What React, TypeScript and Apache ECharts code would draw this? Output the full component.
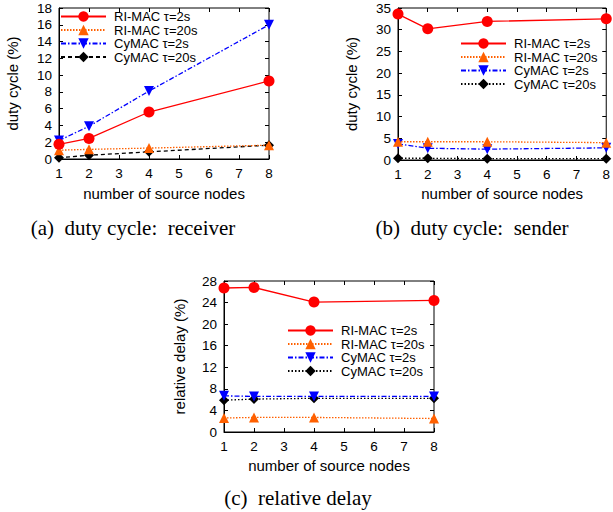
import React, { useEffect, useRef } from "react";
import * as echarts from "echarts";

const nodes = [1, 2, 4, 8];
const seriesNames = ["RI-MAC τ=2s", "RI-MAC τ=20s", "CyMAC τ=2s", "CyMAC τ=20s"];

// (a) duty cycle: receiver
const recvRiMac2 = [1.75, 2.45, 5.6, 9.3];
const recvRiMac20 = [1.05, 1.15, 1.3, 1.65];
const recvCyMac2 = [2.2, 3.9, 8.1, 16.0];
const recvCyMac20 = [0.15, 0.45, 0.85, 1.65];

// (b) duty cycle: sender
const sendRiMac2 = [33.6, 30.2, 31.9, 32.5];
const sendRiMac20 = [4.2, 4.2, 4.2, 4.0];
const sendCyMac2 = [3.7, 2.7, 2.5, 2.8];
const sendCyMac20 = [0.4, 0.4, 0.3, 0.3];

// (c) relative delay
const delayRiMac2 = [26.7, 26.8, 24.1, 24.4];
const delayRiMac20 = [2.6, 2.7, 2.7, 2.5];
const delayCyMac2 = [6.7, 6.6, 6.6, 6.6];
const delayCyMac20 = [5.9, 6.1, 6.25, 6.25];

const yAxisNames = ["duty cycle (%)", "duty cycle (%)", "relative delay (%)"];
const xAxisName = "number of source nodes";
const yMax = [18, 35, 28];
const yInterval = [2, 5, 4];
const captions = ["(a)  duty cycle:  receiver", "(b)  duty cycle:  sender", "(c)  relative delay"];

const FONT = "Liberation Sans";
const LABEL_SIZE = 13.5;
const NAME_SIZE = 15;
const LEGEND_SIZE = 13;

export default function App() {
  const ref = useRef<HTMLDivElement>(null);
  useEffect(() => {
    if (!ref.current) return;
    const chart = echarts.init(ref.current, null, { renderer: "svg" });

    const grids = [
      { left: 59, top: 8, width: 210, height: 151 },
      { left: 398, top: 8, width: 213, height: 152 },
      { left: 224, top: 281, width: 210, height: 151 },
    ];
    const yNameGap = [39, 39, 37];
    const xNameGap = [27, 26, 26];

    const xAxes: any[] = [];
    const yAxes: any[] = [];
    grids.forEach((_, i) => {
      xAxes.push({
        type: "value",
        gridIndex: i,
        min: 1,
        max: 8,
        interval: 1,
        position: "bottom",
        name: xAxisName,
        nameLocation: "middle",
        nameGap: xNameGap[i],
        nameTextStyle: { fontFamily: FONT, fontSize: NAME_SIZE, color: "#000" },
        axisLine: { show: true, onZero: false, lineStyle: { color: "#000", width: 1 } },
        axisTick: { show: true, inside: true, length: 4, lineStyle: { color: "#000" } },
        axisLabel: { fontFamily: FONT, fontSize: LABEL_SIZE, color: "#000", margin: 7 },
        splitLine: { show: false },
      });
      yAxes.push({
        type: "value",
        gridIndex: i,
        min: 0,
        max: yMax[i],
        interval: yInterval[i],
        position: "left",
        name: yAxisNames[i],
        nameLocation: "middle",
        nameGap: yNameGap[i],
        nameTextStyle: { fontFamily: FONT, fontSize: NAME_SIZE, color: "#000" },
        axisLine: { show: true, onZero: false, lineStyle: { color: "#000", width: 1 } },
        axisTick: { show: true, inside: true, length: 4, lineStyle: { color: "#000" } },
        axisLabel: { fontFamily: FONT, fontSize: LABEL_SIZE, color: "#000", margin: 7 },
        splitLine: { show: false },
      });
    });
    grids.forEach((_, i) => {
      xAxes.push({
        type: "value",
        gridIndex: i,
        min: 1,
        max: 8,
        interval: 1,
        position: "top",
        axisLine: { show: false, onZero: false },
        axisTick: { show: true, inside: true, length: 4, lineStyle: { color: "#000" } },
        axisLabel: { show: false },
        splitLine: { show: false },
      });
      yAxes.push({
        type: "value",
        gridIndex: i,
        min: 0,
        max: yMax[i],
        interval: yInterval[i],
        position: "right",
        axisLine: { show: false, onZero: false },
        axisTick: { show: true, inside: true, length: 4, lineStyle: { color: "#000" } },
        axisLabel: { show: false },
        splitLine: { show: false },
      });
    });

    const data = [
      [recvRiMac2, recvRiMac20, recvCyMac2, recvCyMac20],
      [sendRiMac2, sendRiMac20, sendCyMac2, sendCyMac20],
      [delayRiMac2, delayRiMac20, delayCyMac2, delayCyMac20],
    ];

    const styles = [
      { color: "#ff0000", symbol: "circle", symbolSize: 11, rotate: 0, type: "solid" as any },
      { color: "#ff6000", symbol: "triangle", symbolSize: 10, rotate: 0, type: [1.5, 1.5] as any },
      { color: "#0000ff", symbol: "triangle", symbolSize: 10, rotate: 180, type: [5, 2, 1.5, 2] as any },
      { color: "#000000", symbol: "diamond", symbolSize: 10, rotate: 0, type: [4, 3] as any },
    ];
    const dotted = [1.5, 2];

    const series: any[] = [];
    data.forEach((group, g) => {
      group.forEach((vals, s) => {
        const st = styles[s];
        let lt = st.type;
        if (s === 3 && g > 0) lt = dotted;
        series.push({
          type: "line",
          name: seriesNames[s],
          xAxisIndex: g,
          yAxisIndex: g,
          data: nodes.map((n, k) => [n, vals[k]]),
          symbol: st.symbol,
          symbolSize: st.symbolSize,
          symbolRotate: st.rotate,
          showSymbol: true,
          itemStyle: { color: st.color },
          lineStyle: { color: st.color, width: 1.3, type: lt },
          z: 10 - s,
        });
      });
    });

    const legendPos = [
      { left: 60, top: 10 },
      { left: 460, top: 37 },
      { left: 287, top: 324 },
    ];
    const legends = legendPos.map((p, li) => ({
      left: p.left,
      top: p.top,
      orient: "vertical",
      padding: 0,
      itemWidth: 45,
      itemHeight: 13,
      itemGap: 0.5,
      data: seriesNames.map((n, s) =>
        s === 3 && li > 0 ? { name: n, lineStyle: { type: dotted } } : { name: n }
      ),
      selectedMode: false,
      textStyle: { fontFamily: FONT, fontSize: LEGEND_SIZE, lineHeight: 13, color: "#000", padding: [0, 0, 0, 3] },
    }));

    const captionPos = [
      { x: 133, y: 228 },
      { x: 472, y: 228 },
      { x: 298, y: 498 },
    ];

    chart.setOption({
      animation: false,
      backgroundColor: "#fff",
      grid: grids.map((g) => ({ ...g, show: true, borderColor: "#000", borderWidth: 1, backgroundColor: "transparent" })),
      xAxis: xAxes,
      yAxis: yAxes,
      legend: legends,
      series,
      graphic: captions.map((c, i) => ({
        type: "text",
        x: captionPos[i].x,
        y: captionPos[i].y,
        style: {
          text: c,
          fontFamily: "Liberation Serif",
          fontSize: 21,
          fill: "#000",
          textAlign: "center",
          textVerticalAlign: "middle",
        },
      })),
    });
    return () => chart.dispose();
  }, []);
  return (
    <div
      ref={ref}
      style={{ position: "absolute", left: 0, top: 0, width: 613, height: 512, background: "#fff" }}
    />
  );
}
